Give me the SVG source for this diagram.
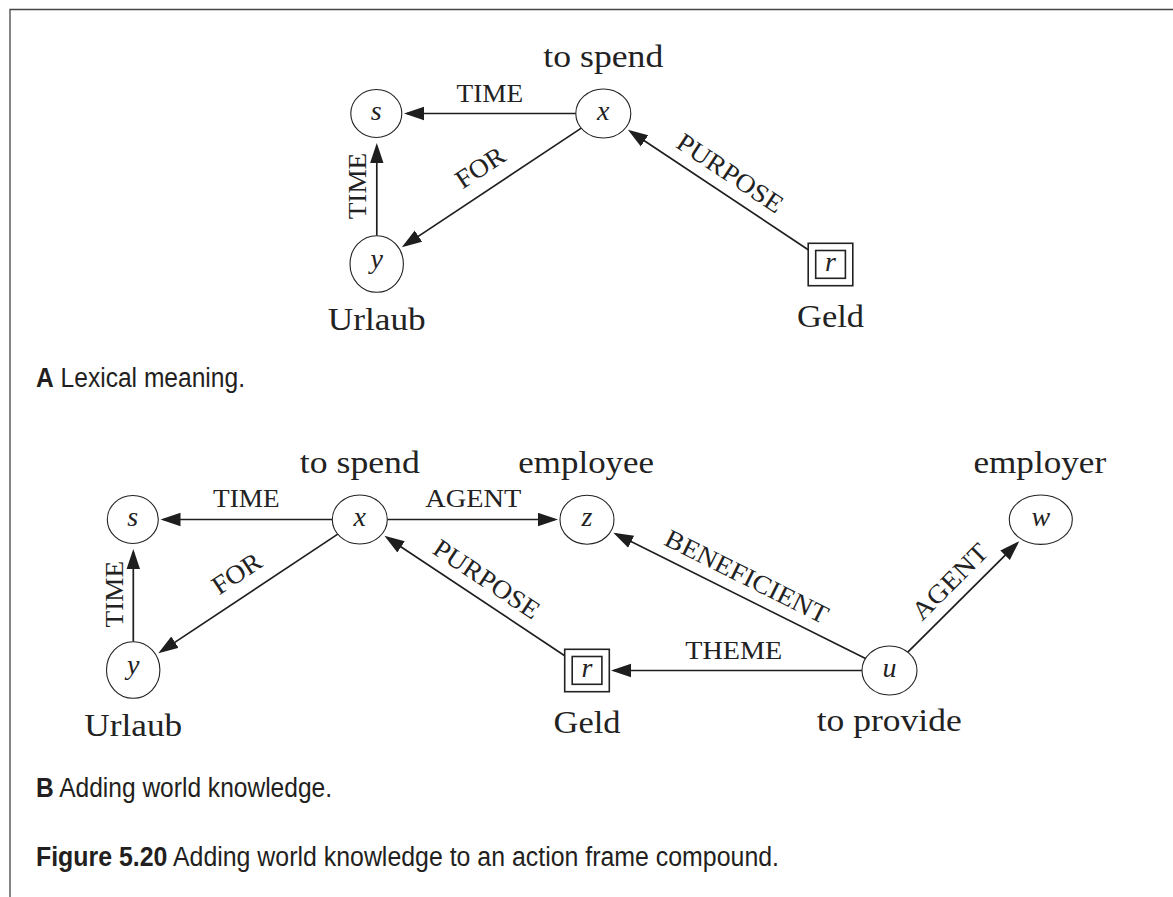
<svg xmlns="http://www.w3.org/2000/svg" width="1173" height="897" viewBox="0 0 1173 897">
  <defs>
    <marker id="arr" markerUnits="userSpaceOnUse" markerWidth="22" markerHeight="16" refX="17" refY="7" orient="auto" viewBox="0 0 22 16">
      <path d="M0,0.3 L20,7 L0,13.7 z" fill="#1e1e1e"/>
    </marker>
    <style>
      .frame { stroke: #444; stroke-width: 1.3; fill: none; }
      .node { fill: #fff; stroke: #222; stroke-width: 1.1; }
      .box { fill: none; stroke: #222; stroke-width: 1.6; }
      .edge { fill: none; stroke: #1e1e1e; stroke-width: 1.7; marker-end: url(#arr); }
      .var { font-family: "Liberation Serif", serif; font-style: italic; font-size: 28px; fill: #222; text-anchor: middle; }
      .name { font-family: "Liberation Serif", serif; font-size: 31px; fill: #222; text-anchor: middle; }
      .rel { font-family: "Liberation Serif", serif; font-size: 26px; fill: #222; text-anchor: middle; }
      .cap { font-family: "Liberation Sans", Arial, sans-serif; font-size: 27px; fill: #231f20; }
      .cap .b { font-weight: bold; }
    </style>
  </defs>

  <!-- page frame -->
  <path class="frame" d="M10,897 V9.5 H1173"/>

  <!-- ===== A: lexical meaning ===== -->
  <g id="a-connectors">
    <path class="edge" d="M575.8,113.5 H407"/>
    <path class="edge" d="M376.8,235.7 V146"/>
    <path class="edge" d="M581.3,128.1 L404.3,245.6"/>
    <path class="edge" d="M808.2,249.7 L630.4,131.5"/>
    <text class="rel" x="489.8" y="101.5" textLength="66.5" lengthAdjust="spacingAndGlyphs">TIME</text>
    <text class="rel" transform="translate(366,186) rotate(-90)" x="0" y="0" textLength="66.5" lengthAdjust="spacingAndGlyphs">TIME</text>
    <text class="rel" transform="translate(480.2,167.5) rotate(-33.6)" x="0" y="8.5" textLength="54" lengthAdjust="spacingAndGlyphs">FOR</text>
    <text class="rel" transform="translate(730,173.3) rotate(33.6)" x="0" y="8.5" textLength="122" lengthAdjust="spacingAndGlyphs">PURPOSE</text>
  </g>
  <g id="a-s">
    <ellipse class="node" cx="376.3" cy="113.5" rx="25.5" ry="24"/>
    <text class="var" x="376.3" y="120">s</text>
  </g>
  <g id="a-x">
    <ellipse class="node" cx="603.3" cy="113.5" rx="27.5" ry="24.5"/>
    <text class="var" x="603.3" y="119.5">x</text>
    <text class="name" x="603.3" y="67.3" textLength="120" lengthAdjust="spacingAndGlyphs">to spend</text>
  </g>
  <g id="a-y">
    <ellipse class="node" cx="376.7" cy="264" rx="26.7" ry="28.3"/>
    <text class="var" x="376.7" y="267.5">y</text>
    <text class="name" x="376.7" y="329.5" textLength="98" lengthAdjust="spacingAndGlyphs">Urlaub</text>
  </g>
  <g id="a-r">
    <rect class="box" x="808.2" y="243.3" width="44.6" height="42.4"/>
    <rect class="box" x="815.7" y="250.5" width="29.7" height="27.8"/>
    <text class="var" x="830.5" y="270.5">r</text>
    <text class="name" x="830.5" y="327" textLength="67" lengthAdjust="spacingAndGlyphs">Geld</text>
  </g>

  <text class="cap" x="36" y="387" textLength="209" lengthAdjust="spacingAndGlyphs"><tspan class="b">A</tspan> Lexical meaning.</text>

  <!-- ===== B: adding world knowledge ===== -->
  <g id="b-connectors">
    <path class="edge" d="M332.3,519.5 H163.5"/>
    <path class="edge" d="M133.3,641.7 V552"/>
    <path class="edge" d="M337.8,534.1 L160.8,651.6"/>
    <path class="edge" d="M387.3,519.5 H555"/>
    <path class="edge" d="M564.7,655.7 L386.9,537.5"/>
    <path class="edge" d="M865.5,658.5 L616,534.1"/>
    <path class="edge" d="M862,670.5 H614"/>
    <path class="edge" d="M907.8,652.2 L1017.1,543.3"/>
    <text class="rel" x="246.3" y="507" textLength="66.5" lengthAdjust="spacingAndGlyphs">TIME</text>
    <text class="rel" x="473.3" y="507" textLength="96" lengthAdjust="spacingAndGlyphs">AGENT</text>
    <text class="rel" x="733.8" y="659" textLength="97" lengthAdjust="spacingAndGlyphs">THEME</text>
    <text class="rel" transform="translate(123,594.2) rotate(-90)" x="0" y="0" textLength="66.5" lengthAdjust="spacingAndGlyphs">TIME</text>
    <text class="rel" transform="translate(236.7,573.5) rotate(-33.6)" x="0" y="8.5" textLength="54" lengthAdjust="spacingAndGlyphs">FOR</text>
    <text class="rel" transform="translate(486.5,579.3) rotate(33.6)" x="0" y="8.5" textLength="122" lengthAdjust="spacingAndGlyphs">PURPOSE</text>
    <text class="rel" transform="translate(746.7,576.7) rotate(26.5)" x="0" y="8.5" textLength="179" lengthAdjust="spacingAndGlyphs">BENEFICIENT</text>
    <text class="rel" transform="translate(950,581.7) rotate(-45)" x="0" y="8.5" textLength="96" lengthAdjust="spacingAndGlyphs">AGENT</text>
  </g>
  <g id="b-s">
    <ellipse class="node" cx="132.8" cy="519.5" rx="25.5" ry="24"/>
    <text class="var" x="132.8" y="526">s</text>
  </g>
  <g id="b-x">
    <ellipse class="node" cx="359.8" cy="519.5" rx="27.5" ry="24.5"/>
    <text class="var" x="359.8" y="525.5">x</text>
    <text class="name" x="359.8" y="473.3" textLength="120" lengthAdjust="spacingAndGlyphs">to spend</text>
  </g>
  <g id="b-z">
    <ellipse class="node" cx="587" cy="519.7" rx="27" ry="24.5"/>
    <text class="var" x="587" y="525.7">z</text>
    <text class="name" x="586.2" y="473.3" textLength="135.7" lengthAdjust="spacingAndGlyphs">employee</text>
  </g>
  <g id="b-w">
    <ellipse class="node" cx="1040.8" cy="519.7" rx="31.5" ry="24.7"/>
    <text class="var" x="1040.8" y="525.7">w</text>
    <text class="name" x="1039.8" y="473.3" textLength="132.7" lengthAdjust="spacingAndGlyphs">employer</text>
  </g>
  <g id="b-y">
    <ellipse class="node" cx="133.2" cy="670" rx="26.7" ry="28.3"/>
    <text class="var" x="133.2" y="673.5">y</text>
    <text class="name" x="133.2" y="735.5" textLength="98" lengthAdjust="spacingAndGlyphs">Urlaub</text>
  </g>
  <g id="b-r">
    <rect class="box" x="564.7" y="649.3" width="44.6" height="42.4"/>
    <rect class="box" x="572.2" y="656.5" width="29.7" height="27.8"/>
    <text class="var" x="587" y="676.5">r</text>
    <text class="name" x="587" y="732.7" textLength="67" lengthAdjust="spacingAndGlyphs">Geld</text>
  </g>
  <g id="b-u">
    <ellipse class="node" cx="889.5" cy="670.5" rx="27.5" ry="24.5"/>
    <text class="var" x="889.5" y="676.5">u</text>
    <text class="name" x="889.2" y="730.7" textLength="145" lengthAdjust="spacingAndGlyphs">to provide</text>
  </g>

  <text class="cap" x="36" y="796.5" textLength="296" lengthAdjust="spacingAndGlyphs"><tspan class="b">B</tspan> Adding world knowledge.</text>
  <text class="cap" x="36" y="866" textLength="743" lengthAdjust="spacingAndGlyphs"><tspan class="b">Figure 5.20</tspan> Adding world knowledge to an action frame compound.</text>
</svg>
